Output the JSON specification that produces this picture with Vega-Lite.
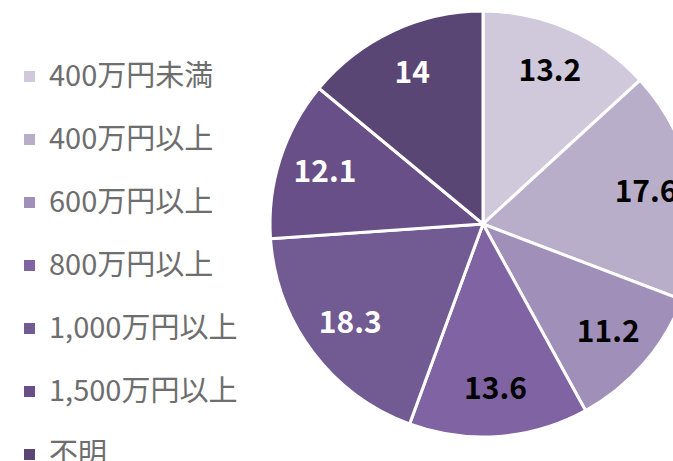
{
  "$schema": "https://vega.github.io/schema/vega-lite/v6.json",
  "autosize": {"type": "none"},
  "width": 426,
  "height": 448,
  "padding": {"left": 270, "top": 0, "right": 0, "bottom": 13},
  "background": "white",
  "config": {"view": {"stroke": null}, "font": "Noto Sans CJK JP"},
  "data": {"values": [
    {"i": 1, "cat": "400万円未満", "value": 13.2},
    {"i": 2, "cat": "400万円以上", "value": 17.6},
    {"i": 3, "cat": "600万円以上", "value": 11.2},
    {"i": 4, "cat": "800万円以上", "value": 13.6},
    {"i": 5, "cat": "1,000万円以上", "value": 18.3},
    {"i": 6, "cat": "1,500万円以上", "value": 12.1},
    {"i": 7, "cat": "不明", "value": 14}
  ]},
  "encoding": {
    "theta": {"field": "value", "type": "quantitative", "stack": true},
    "order": {"field": "i", "type": "quantitative"},
    "color": {
      "field": "cat", "type": "nominal",
      "scale": {
        "domain": ["400万円未満", "400万円以上", "600万円以上", "800万円以上", "1,000万円以上", "1,500万円以上", "不明"],
        "range": ["#D0C8DB", "#B9AECA", "#A08FB8", "#7F63A2", "#725A93", "#684F88", "#5A4674"]
      },
      "legend": {
        "title": null,
        "orient": "none",
        "legendX": -255,
        "legendY": 62,
        "symbolType": "square",
        "symbolSize": 121,
        "symbolStrokeWidth": 0,
        "labelFontSize": 29,
        "labelColor": "#6e6e6e",
        "labelFont": "Noto Sans CJK JP",
        "labelOffset": 5,
        "rowPadding": 33,
        "labelLimit": 300
      }
    }
  },
  "layer": [
    {"mark": {"type": "arc", "outerRadius": 213, "stroke": "white", "strokeWidth": 3}},
    {
      "mark": {"type": "text", "radius": 166, "fontSize": 30, "fontWeight": "bold", "font": "Noto Sans CJK JP"},
      "encoding": {
        "text": {"field": "value", "type": "quantitative"},
        "color": {
          "condition": {"test": "datum.i >= 5", "value": "white"},
          "value": "black"
        }
      }
    }
  ]
}
